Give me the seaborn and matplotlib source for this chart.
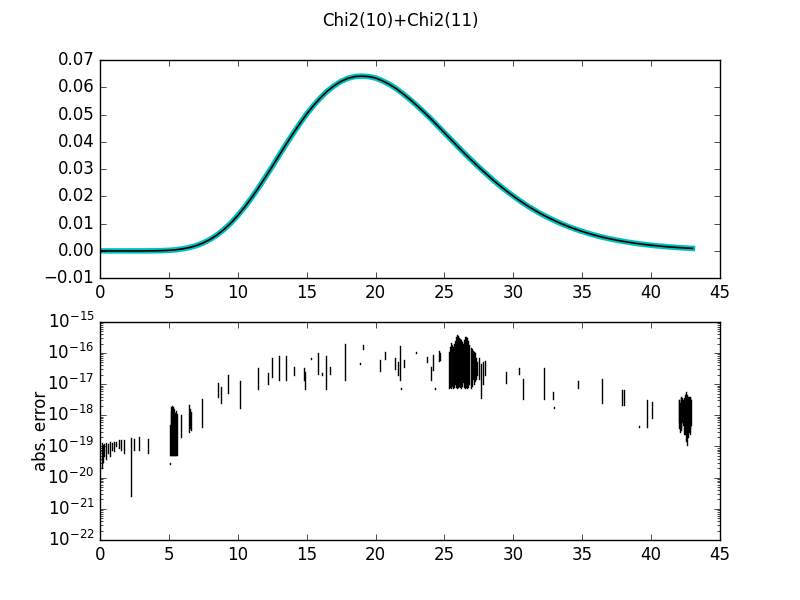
import matplotlib
matplotlib.use("Agg")
import matplotlib.pyplot as plt
import seaborn as sns
import pandas as pd

plt.style.use("classic")

title = "Chi2(10)+Chi2(11)"

# Top panel: density of Chi2(10)+Chi2(11) (every 0.5)
pdf_x = [0.0, 0.5, 1.0, 1.5, 2.0, 2.5, 3.0, 3.5, 4.0, 4.5, 5.0, 5.5, 6.0, 6.5,
         7.0, 7.5, 8.0, 8.5, 9.0, 9.5, 10.0, 10.5, 11.0, 11.5, 12.0, 12.5,
         13.0, 13.5, 14.0, 14.5, 15.0, 15.5, 16.0, 16.5, 17.0, 17.5, 18.0, 18.5,
         19.0, 19.5, 20.0, 20.5, 21.0, 21.5, 22.0, 22.5, 23.0, 23.5, 24.0, 24.5,
         25.0, 25.5, 26.0, 26.5, 27.0, 27.5, 28.0, 28.5, 29.0, 29.5, 30.0, 30.5,
         31.0, 31.5, 32.0, 32.5, 33.0, 33.5, 34.0, 34.5, 35.0, 35.5, 36.0, 36.5,
         37.0, 37.5, 38.0, 38.5, 39.0, 39.5, 40.0, 40.5, 41.0, 41.5, 42.0, 42.5,
         43.0]
pdf_y = [0.0, 0.0, 0.0, 0.0, 0.00000016, 0.00000105, 0.0000046, 0.0000156,
         0.000043, 0.000103, 0.000218, 0.000421, 0.00075, 0.001247, 0.00196,
         0.00295, 0.00424, 0.00587, 0.00787, 0.01023, 0.01298, 0.01607, 0.01947,
         0.02312, 0.02700, 0.03095, 0.03502, 0.03905, 0.04294, 0.04665, 0.05019,
         0.05333, 0.05613, 0.05862, 0.06056, 0.06217, 0.06330, 0.06393, 0.06410,
         0.06393, 0.06340, 0.06236, 0.06110, 0.05950, 0.05760, 0.05553, 0.05330,
         0.05095, 0.04850, 0.04591, 0.04330, 0.04072, 0.03810, 0.03554, 0.03310,
         0.03068, 0.02840, 0.02612, 0.02400, 0.02199, 0.02010, 0.01830, 0.01660,
         0.01508, 0.01360, 0.01230, 0.01110, 0.00995, 0.00892, 0.00799, 0.00713,
         0.00635, 0.00565, 0.00501, 0.00445, 0.00393, 0.00348, 0.00307, 0.00270,
         0.00237, 0.00208, 0.00182, 0.00160, 0.00140, 0.00122, 0.00106, 0.00092]

# Bottom panel: absolute error segments (x, low, high)
seg_x = [0.12, 0.22, 0.32, 0.42, 0.55, 0.70, 0.85, 1.00, 1.15, 1.35, 1.55, 1.75,
         2.25, 2.50, 2.85, 3.45,
         5.05, 5.07, 5.12, 5.17, 5.22, 5.27, 5.32, 5.37, 5.42, 5.47, 5.52, 5.57,
         5.87, 6.45, 6.52, 6.60, 7.39, 8.55, 8.75, 9.28, 10.14,
         11.5, 12.17, 12.5, 12.97, 13.5, 14.1, 14.8, 14.9, 15.3, 15.8, 16.1, 16.4,
         16.7, 17.8, 18.9, 19.1, 20.3, 20.7, 21.4, 21.6, 21.8, 21.85, 22.1, 22.9,
         23.7, 24.0, 24.2, 24.3, 24.6, 24.7,
         25.3, 25.38, 25.45, 25.52, 25.6, 25.68, 25.75, 25.82, 25.9, 25.98,
         26.05, 26.12, 26.2, 26.28, 26.35, 26.42, 26.5, 26.58, 26.65, 26.72,
         26.8, 26.9, 26.98, 27.05, 27.12, 27.2, 27.28, 27.35, 27.5, 27.65, 27.8,
         27.95,
         29.5, 30.4, 30.7, 32.2, 32.9, 32.92, 34.7, 36.4, 37.9, 38.0, 39.1, 39.7,
         40.1,
         42.0, 42.05, 42.1, 42.15, 42.2, 42.25, 42.3, 42.35, 42.4, 42.45, 42.5,
         42.55, 42.6, 42.65, 42.7, 42.75, 42.8, 42.85, 42.9]
seg_lo = [2.0e-20, 3.2e-20, 5.0e-20, 4.0e-20, 6.3e-20, 5.0e-20, 8.0e-20, 7.0e-20,
          1.0e-19, 9.0e-20, 8.0e-20, 6.3e-20, 2.6e-21, 8.0e-20, 8.0e-20, 6.3e-20,
          2.8e-20, 5.4e-20, 5.4e-20, 5.4e-20, 5.4e-20, 5.4e-20, 5.4e-20, 5.4e-20,
          5.4e-20, 5.4e-20, 5.4e-20, 5.4e-20,
          2.0e-19, 3.0e-19, 4.0e-19, 3.5e-19, 4.3e-19, 4.0e-18, 2.5e-18, 5.2e-18,
          1.7e-18,
          7.0e-18, 1.0e-17, 1.7e-17, 1.4e-17, 1.4e-17, 2.0e-17, 1.4e-17, 7.1e-18,
          6.5e-17, 2.1e-17, 2.0e-17, 7.1e-18, 2.1e-17, 1.4e-17, 4.3e-17, 1.3e-16,
          2.7e-17, 6.5e-17, 3.0e-17, 2.0e-17, 1.4e-17, 7.0e-18, 3.5e-17, 1.0e-16,
          5.2e-17, 1.4e-17, 2.9e-17, 7.0e-18, 5.6e-17, 6.0e-17,
          7.6e-18, 8.0e-18, 7.6e-18, 9.0e-18, 7.6e-18, 8.0e-18, 1.0e-17, 8.0e-18,
          7.6e-18, 8.0e-18, 9.0e-18, 8.0e-18, 7.6e-18, 9.0e-18, 1.2e-17, 8.0e-18,
          7.6e-18, 8.0e-18, 7.6e-18, 8.0e-18, 1.0e-17, 7.6e-18, 9.0e-18, 1.5e-17,
          1.0e-17, 1.3e-17, 1.5e-17, 2.0e-17, 1.5e-17, 3.6e-18, 1.0e-17, 2.0e-17,
          1.1e-17, 2.1e-17, 3.4e-18, 3.4e-18, 3.4e-18, 1.7e-18, 7.6e-18, 2.5e-18,
          2.1e-18, 2.1e-18, 4.1e-19, 4.3e-19, 8.3e-19,
          6.3e-19, 4.0e-19, 3.0e-19, 3.5e-19, 4.0e-19, 6.0e-19, 1.0e-18, 5.0e-19,
          2.5e-19, 2.5e-19, 2.5e-19, 1.5e-19, 1.1e-19, 2.0e-19, 4.0e-19, 3.0e-19,
          2.5e-19, 4.0e-19, 5.0e-19]
seg_hi = [1.3e-19, 1.1e-19, 1.2e-19, 1.3e-19, 1.2e-19, 1.4e-19, 1.3e-19, 1.4e-19,
          1.4e-19, 1.6e-19, 1.6e-19, 1.6e-19, 1.9e-19, 1.8e-19, 2.0e-19, 1.8e-19,
          3.0e-20, 5.0e-19, 1.3e-18, 1.8e-18, 2.0e-18, 1.5e-18, 1.9e-18, 1.6e-18,
          1.2e-18, 1.0e-18, 1.4e-18, 1.1e-18,
          1.0e-18, 2.1e-18, 1.6e-18, 1.3e-18, 3.4e-18, 1.1e-17, 8.0e-18, 1.9e-17,
          1.3e-17,
          3.3e-17, 2.3e-17, 6.9e-17, 8.1e-17, 8.1e-17, 3.6e-17, 3.2e-17, 2.5e-17,
          7.0e-17, 1.0e-16, 2.2e-17, 8.1e-17, 3.6e-17, 1.9e-16, 4.6e-17, 1.8e-16,
          6.0e-17, 1.1e-16, 7.0e-17, 5.0e-17, 1.7e-16, 7.5e-18, 6.0e-17, 1.1e-16,
          7.6e-17, 3.6e-17, 8.7e-17, 7.5e-18, 1.2e-16, 1.0e-16,
          1.1e-16, 1.6e-16, 2.1e-16, 1.8e-16, 1.5e-16, 2.0e-16, 2.5e-16, 3.2e-16,
          3.8e-16, 3.4e-16, 3.0e-16, 2.8e-16, 2.6e-16, 2.3e-16, 2.0e-16, 2.6e-16,
          3.3e-16, 3.2e-16, 3.0e-16, 2.4e-16, 1.8e-16, 1.4e-16, 1.3e-16, 1.2e-16,
          1.1e-16, 1.0e-16, 7.0e-17, 5.2e-17, 6.9e-17, 4.5e-17, 5.0e-17, 5.5e-17,
          2.5e-17, 3.2e-17, 1.5e-17, 3.2e-17, 5.6e-18, 1.8e-18, 1.3e-17, 1.5e-17,
          6.3e-18, 6.3e-18, 4.4e-19, 3.2e-18, 2.7e-18,
          3.2e-18, 3.0e-18, 2.5e-18, 3.5e-18, 4.0e-18, 3.5e-18, 3.0e-18, 3.2e-18,
          3.5e-18, 4.5e-18, 5.6e-18, 5.0e-18, 4.5e-18, 4.0e-18, 3.5e-18, 3.8e-18,
          4.0e-18, 3.5e-18, 3.0e-18]

fig, (ax1, ax2) = plt.subplots(2, 1, figsize=(8, 6), dpi=100)
fig.suptitle(title, fontsize=12)

top_df = pd.DataFrame({"x": pdf_x, "y": pdf_y})
sns.lineplot(data=top_df, x="x", y="y", color=(0.0, 0.75, 0.75), linewidth=4,
             ax=ax1, estimator=None, sort=False)
sns.lineplot(data=top_df, x="x", y="y", color="k", linewidth=1.2, ax=ax1,
             estimator=None, sort=False)
ax1.set_xlim(0, 45)
ax1.set_ylim(-0.01, 0.07)
ax1.set_xlabel("")
ax1.set_ylabel("")

rows = []
for i, (sx, lo, hi) in enumerate(zip(seg_x, seg_lo, seg_hi)):
    rows.append({"x": sx, "err": lo, "seg": i})
    rows.append({"x": sx, "err": hi, "seg": i})
err_df = pd.DataFrame(rows)

ax2.set_yscale("log")
sns.lineplot(data=err_df, x="x", y="err", units="seg", estimator=None,
             color="k", linewidth=1.0, ax=ax2, sort=False)
ax2.set_xlim(0, 45)
ax2.set_ylim(1e-22, 1e-15)
ax2.set_xlabel("")
ax2.set_ylabel("abs. error", labelpad=-2)

fig.savefig("out.png", dpi=100)
